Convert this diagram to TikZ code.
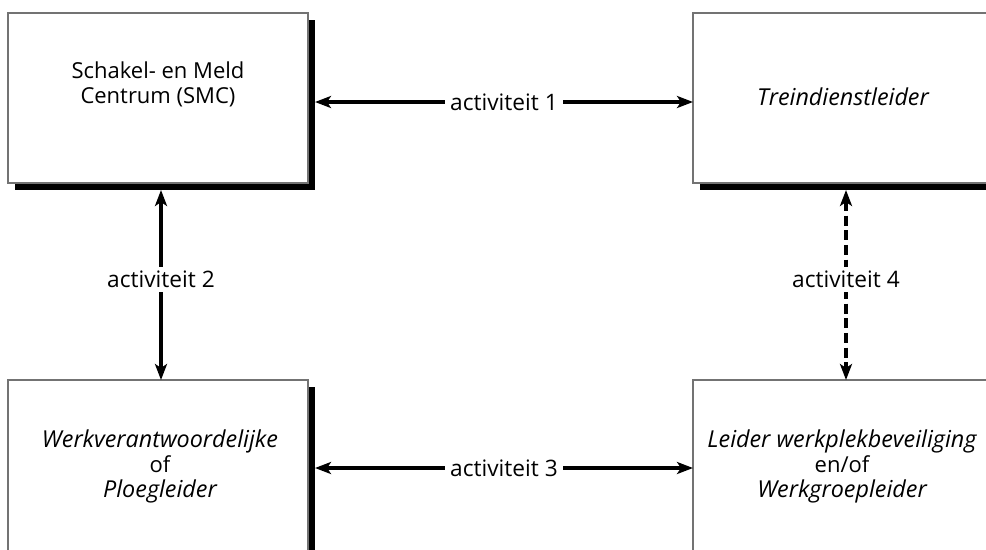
\documentclass[tikz,border=0pt]{standalone}
\usepackage{fontspec}
\setmainfont{Open Sans}
\usetikzlibrary{arrows.meta}
\begin{document}
\begin{tikzpicture}[x=0.75pt,y=-0.75pt,
  box/.style={draw=black!55,line width=1pt,fill=white,inner sep=0pt,outer sep=0pt,anchor=north west},
  shade/.style={fill=black,draw=none,inner sep=0pt,outer sep=0pt,anchor=north west},
  txt/.style={align=center,font=\fontsize{16.5}{18.75}\selectfont,inner sep=0pt},
  lbl/.style={fill=white,font=\fontsize{17}{18}\selectfont,inner xsep=4pt,inner ysep=3pt},
  conn/.style={line width=2.6pt,{Stealth[length=12pt,width=9pt,inset=3pt]}-{Stealth[length=12pt,width=9pt,inset=3pt]}}]
\useasboundingbox (0,0) rectangle (986,550);
\clip (0,0) rectangle (986,550);
% shadows
\node[shade,minimum width=225pt,minimum height=127.5pt] (s1) at (15,20) {};
\node[shade,minimum width=230pt,minimum height=127.5pt] (s2) at (700,20) {};
\node[shade,minimum width=225pt,minimum height=135pt] (s3) at (15,387) {};
% boxes
\node[box,minimum width=225pt,minimum height=127.5pt] (b1) at (8,13) {};
\node[box,minimum width=230pt,minimum height=127.5pt] (b2) at (693,13) {};
\node[box,minimum width=225pt,minimum height=135pt] (b3) at (8,380) {};
\node[box,minimum width=230pt,minimum height=135pt] (b4) at (693,380) {};
% texts
\node[txt] (t1) at (158,84) {Schakel- en Meld\\Centrum (SMC)};
\node[txt] (t2) at (843,97) {{\fontsize{17.5}{18.75}\selectfont\itshape Treindienstleider}};
\node[txt] (t3) at (160,466) {{\fontsize{17.5}{18.75}\selectfont\itshape Werkverantwoordelijke}\\of\\{\fontsize{17.5}{18.75}\selectfont\itshape Ploegleider}};
\node[txt] (t4) at (842,466) {{\fontsize{17.5}{18.75}\selectfont\itshape Leider werkplekbeveiliging}\\en/of\\{\fontsize{17.5}{18.75}\selectfont\itshape Werkgroepleider}};
% connectors
\draw[conn] (s1.east |- 0,102) -- node[lbl] {activiteit 1} (b2.west |- 0,102);
\draw[conn] (s1.south -| 161,0) -- node[lbl,pos=0.47] {activiteit 2} (b3.north -| 161,0);
\draw[conn] (s3.east |- 0,468) -- node[lbl] {activiteit 3} (b4.west |- 0,468);
\draw[conn,dash pattern=on 7.5pt off 3.5pt] (s2.south -| 846,0) -- node[lbl,pos=0.47] {activiteit 4} (b4.north -| 846,0);
\end{tikzpicture}
\end{document}
